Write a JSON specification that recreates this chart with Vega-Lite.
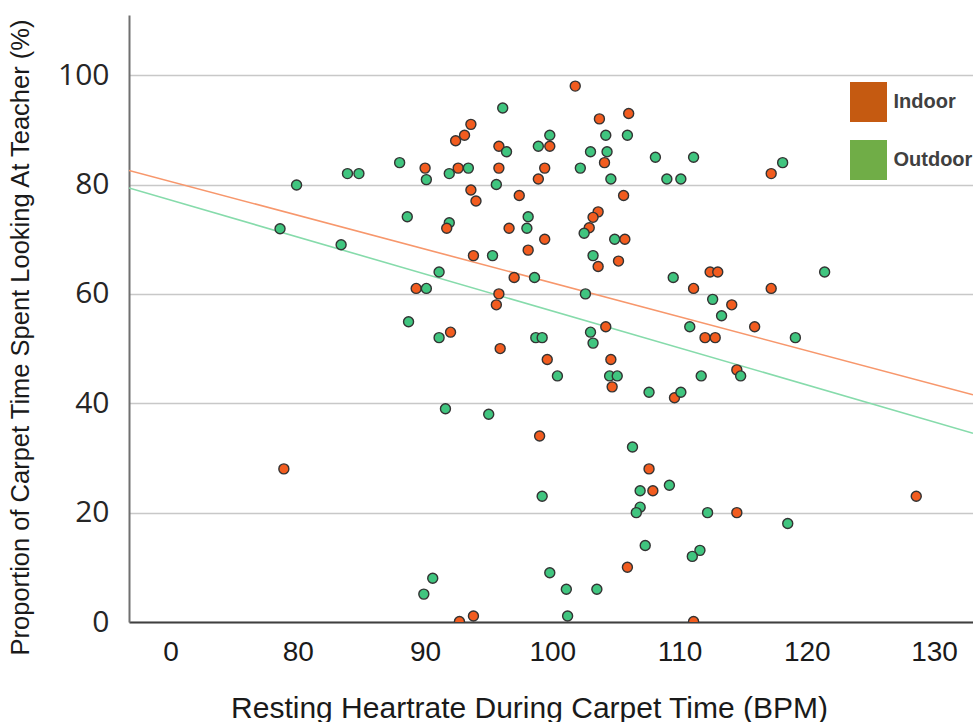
{
  "$schema": "https://vega.github.io/schema/vega-lite/v6.json",
  "width": 844,
  "height": 607,
  "autosize": {"type": "none"},
  "padding": {"left": 129, "top": 15, "right": 0, "bottom": 100},
  "background": "white",
  "config": {"view": {"stroke": null}},
  "datasets": {
    "points": [
      {"hr":79.9,"pct":79.9,"g":"Outdoor"},{"hr":83.9,"pct":82.0,"g":"Outdoor"},{"hr":84.8,"pct":82.0,"g":"Outdoor"},{"hr":88.0,"pct":84.0,"g":"Outdoor"},
      {"hr":90.0,"pct":83.0,"g":"Indoor"},{"hr":90.1,"pct":80.9,"g":"Outdoor"},{"hr":88.6,"pct":74.1,"g":"Outdoor"},{"hr":78.6,"pct":71.9,"g":"Outdoor"},
      {"hr":83.4,"pct":69.0,"g":"Outdoor"},{"hr":89.3,"pct":61.0,"g":"Indoor"},{"hr":90.1,"pct":61.0,"g":"Outdoor"},{"hr":101.8,"pct":98.0,"g":"Indoor"},
      {"hr":96.1,"pct":94.0,"g":"Outdoor"},{"hr":103.7,"pct":92.0,"g":"Indoor"},{"hr":106.0,"pct":93.0,"g":"Indoor"},{"hr":93.6,"pct":91.0,"g":"Indoor"},
      {"hr":93.1,"pct":89.0,"g":"Indoor"},{"hr":92.4,"pct":88.0,"g":"Indoor"},{"hr":99.8,"pct":89.0,"g":"Outdoor"},{"hr":104.2,"pct":89.0,"g":"Outdoor"},
      {"hr":105.9,"pct":89.0,"g":"Outdoor"},{"hr":95.8,"pct":87.0,"g":"Indoor"},{"hr":96.4,"pct":86.0,"g":"Outdoor"},{"hr":98.9,"pct":87.0,"g":"Outdoor"},
      {"hr":99.8,"pct":87.0,"g":"Indoor"},{"hr":103.0,"pct":86.0,"g":"Outdoor"},{"hr":104.3,"pct":86.0,"g":"Outdoor"},{"hr":108.1,"pct":85.0,"g":"Outdoor"},
      {"hr":111.1,"pct":85.0,"g":"Outdoor"},{"hr":104.1,"pct":84.0,"g":"Indoor"},{"hr":91.9,"pct":82.0,"g":"Outdoor"},{"hr":92.6,"pct":83.0,"g":"Indoor"},
      {"hr":93.4,"pct":83.0,"g":"Outdoor"},{"hr":95.8,"pct":83.0,"g":"Indoor"},{"hr":99.4,"pct":83.0,"g":"Indoor"},{"hr":102.2,"pct":83.0,"g":"Outdoor"},
      {"hr":95.6,"pct":80.0,"g":"Outdoor"},{"hr":98.9,"pct":81.0,"g":"Indoor"},{"hr":104.6,"pct":81.0,"g":"Outdoor"},{"hr":109.0,"pct":81.0,"g":"Outdoor"},
      {"hr":110.1,"pct":81.0,"g":"Outdoor"},{"hr":93.6,"pct":79.0,"g":"Indoor"},{"hr":94.0,"pct":77.0,"g":"Indoor"},{"hr":97.4,"pct":78.0,"g":"Indoor"},
      {"hr":105.6,"pct":78.0,"g":"Indoor"},{"hr":98.1,"pct":74.1,"g":"Outdoor"},{"hr":91.9,"pct":73.0,"g":"Outdoor"},{"hr":91.7,"pct":72.0,"g":"Indoor"},
      {"hr":98.0,"pct":72.0,"g":"Outdoor"},{"hr":96.6,"pct":72.0,"g":"Indoor"},{"hr":103.6,"pct":75.0,"g":"Indoor"},{"hr":103.2,"pct":74.0,"g":"Indoor"},
      {"hr":102.9,"pct":72.1,"g":"Indoor"},{"hr":102.5,"pct":71.1,"g":"Outdoor"},{"hr":104.9,"pct":70.0,"g":"Outdoor"},{"hr":105.7,"pct":70.0,"g":"Indoor"},
      {"hr":99.4,"pct":70.0,"g":"Indoor"},{"hr":98.1,"pct":68.0,"g":"Indoor"},{"hr":93.8,"pct":67.0,"g":"Indoor"},{"hr":95.3,"pct":67.0,"g":"Outdoor"},
      {"hr":103.2,"pct":67.0,"g":"Outdoor"},{"hr":103.6,"pct":65.0,"g":"Indoor"},{"hr":105.2,"pct":66.0,"g":"Indoor"},{"hr":91.1,"pct":64.0,"g":"Outdoor"},
      {"hr":97.0,"pct":63.0,"g":"Indoor"},{"hr":98.6,"pct":63.0,"g":"Outdoor"},{"hr":109.5,"pct":63.0,"g":"Outdoor"},{"hr":112.4,"pct":64.0,"g":"Indoor"},
      {"hr":113.0,"pct":64.0,"g":"Indoor"},{"hr":111.1,"pct":61.0,"g":"Indoor"},{"hr":95.8,"pct":60.0,"g":"Indoor"},{"hr":102.6,"pct":60.0,"g":"Outdoor"},
      {"hr":95.6,"pct":58.0,"g":"Indoor"},{"hr":112.6,"pct":59.0,"g":"Outdoor"},{"hr":118.1,"pct":84.0,"g":"Outdoor"},{"hr":117.2,"pct":82.0,"g":"Indoor"},
      {"hr":121.4,"pct":64.0,"g":"Outdoor"},{"hr":117.2,"pct":61.0,"g":"Indoor"},{"hr":114.1,"pct":58.0,"g":"Indoor"},{"hr":88.7,"pct":54.9,"g":"Outdoor"},
      {"hr":78.9,"pct":28.0,"g":"Indoor"},{"hr":91.1,"pct":52.0,"g":"Outdoor"},{"hr":92.0,"pct":53.0,"g":"Indoor"},{"hr":98.7,"pct":52.0,"g":"Outdoor"},
      {"hr":99.2,"pct":52.0,"g":"Outdoor"},{"hr":95.9,"pct":50.0,"g":"Indoor"},{"hr":103.0,"pct":53.0,"g":"Outdoor"},{"hr":103.2,"pct":51.0,"g":"Outdoor"},
      {"hr":104.2,"pct":54.0,"g":"Indoor"},{"hr":99.6,"pct":48.0,"g":"Indoor"},{"hr":104.6,"pct":48.0,"g":"Indoor"},{"hr":100.4,"pct":45.0,"g":"Outdoor"},
      {"hr":104.5,"pct":45.0,"g":"Outdoor"},{"hr":105.1,"pct":45.0,"g":"Outdoor"},{"hr":104.7,"pct":43.0,"g":"Indoor"},{"hr":107.6,"pct":42.0,"g":"Outdoor"},
      {"hr":109.6,"pct":41.0,"g":"Indoor"},{"hr":110.1,"pct":42.0,"g":"Outdoor"},{"hr":110.8,"pct":54.0,"g":"Outdoor"},{"hr":111.7,"pct":45.0,"g":"Outdoor"},
      {"hr":112.0,"pct":52.0,"g":"Indoor"},{"hr":112.8,"pct":52.0,"g":"Indoor"},{"hr":113.3,"pct":56.0,"g":"Outdoor"},{"hr":91.6,"pct":39.0,"g":"Outdoor"},
      {"hr":95.0,"pct":38.0,"g":"Outdoor"},{"hr":99.0,"pct":34.0,"g":"Indoor"},{"hr":106.3,"pct":32.0,"g":"Outdoor"},{"hr":107.6,"pct":28.0,"g":"Indoor"},
      {"hr":115.9,"pct":54.0,"g":"Indoor"},{"hr":119.1,"pct":52.0,"g":"Outdoor"},{"hr":114.5,"pct":46.1,"g":"Indoor"},{"hr":114.8,"pct":45.0,"g":"Outdoor"},
      {"hr":90.6,"pct":8.0,"g":"Outdoor"},{"hr":89.9,"pct":5.1,"g":"Outdoor"},{"hr":92.7,"pct":0.1,"g":"Indoor"},{"hr":93.8,"pct":1.1,"g":"Indoor"},
      {"hr":99.2,"pct":23.0,"g":"Outdoor"},{"hr":106.9,"pct":24.0,"g":"Outdoor"},{"hr":107.9,"pct":24.0,"g":"Indoor"},{"hr":109.2,"pct":25.0,"g":"Outdoor"},
      {"hr":128.6,"pct":23.0,"g":"Indoor"},{"hr":106.9,"pct":21.0,"g":"Outdoor"},{"hr":106.6,"pct":20.0,"g":"Outdoor"},{"hr":112.2,"pct":20.0,"g":"Outdoor"},
      {"hr":114.5,"pct":20.0,"g":"Indoor"},{"hr":118.5,"pct":18.0,"g":"Outdoor"},{"hr":107.3,"pct":14.0,"g":"Outdoor"},{"hr":111.6,"pct":13.1,"g":"Outdoor"},
      {"hr":111.0,"pct":12.0,"g":"Outdoor"},{"hr":105.9,"pct":10.0,"g":"Indoor"},{"hr":99.8,"pct":9.0,"g":"Outdoor"},{"hr":101.1,"pct":6.0,"g":"Outdoor"},
      {"hr":103.5,"pct":6.0,"g":"Outdoor"},{"hr":101.2,"pct":1.1,"g":"Outdoor"},{"hr":111.1,"pct":0.1,"g":"Indoor"}
    ],
    "lines": [
      {"hr":66.73,"pct":82.57,"g":"Indoor"},{"hr":133.06,"pct":41.55,"g":"Indoor"},
      {"hr":66.73,"pct":79.36,"g":"Outdoor"},{"hr":133.06,"pct":34.52,"g":"Outdoor"}
    ]
  },
  "encoding": {
    "x": {
      "field": "hr", "type": "quantitative",
      "scale": {"domain": [66.73, 133.06], "nice": false, "zero": false},
      "axis": {
        "values": [70, 80, 90, 100, 110, 120, 130],
        "labelExpr": "datum.value == 70 ? '0' : datum.label",
        "grid": false, "ticks": false,
        "domainColor": "#404040", "domainWidth": 2,
        "labelFont": "Liberation Sans", "labelFontSize": 28, "labelColor": "#1a1a1a",
        "labelPadding": 16, "labelFlush": false, "labelOverlap": false,
        "title": "Resting Heartrate During Carpet Time (BPM)",
        "titleFont": "Liberation Sans", "titleFontSize": 30, "titleFontWeight": "normal",
        "titleColor": "#1a1a1a", "titleX": 400, "titleY": 95,
        "titleBaseline": "alphabetic", "titleAlign": "center"
      }
    },
    "y": {
      "field": "pct", "type": "quantitative",
      "scale": {"domain": [0, 111], "nice": false},
      "axis": {
        "values": [0, 20, 40, 60, 80, 100],
        "grid": true, "gridColor": "#c8c8c8", "gridWidth": 1.5,
        "ticks": false, "domainColor": "#707070", "domainWidth": 2,
        "labelFont": "Open Sans", "labelFontSize": 30, "labelColor": "#262626",
        "labelPadding": 20, "labelFlush": false, "labelOverlap": false,
        "title": "Proportion of Carpet Time Spent Looking At Teacher (%)",
        "titleFont": "Liberation Sans", "titleFontSize": 25.5, "titleFontWeight": "normal",
        "titleColor": "#1a1a1a", "titleX": -109, "titleY": 322, "titleAngle": -90,
        "titleAlign": "center", "titleBaseline": "middle"
      }
    }
  },
  "layer": [
    {
      "data": {"name": "points"},
      "mark": {"type": "point", "filled": true, "opacity": 0},
      "encoding": {
        "color": {
          "field": "g", "type": "nominal",
          "scale": {"domain": ["Indoor", "Outdoor"], "range": ["#C55A11", "#70AD47"]},
          "legend": {
            "title": null, "orient": "none", "legendX": 719.5, "legendY": 67,
            "symbolType": "M-0.925,-1H0.925V1H-0.925Z", "symbolSize": 1600,
            "symbolOpacity": 1, "symbolStrokeWidth": 0,
            "labelFont": "Liberation Sans", "labelFontSize": 20, "labelFontWeight": "bold",
            "labelColor": "#404040", "labelOffset": 5, "rowPadding": 18, "padding": 0
          }
        }
      }
    },
    {
      "data": {"name": "lines"},
      "mark": {"type": "line", "strokeWidth": 1.6, "clip": true},
      "encoding": {
        "stroke": {
          "field": "g", "type": "nominal",
          "scale": {"domain": ["Indoor", "Outdoor"], "range": ["#F7976C", "#86DBAB"]},
          "legend": null
        }
      }
    },
    {
      "data": {"name": "points"},
      "mark": {"type": "point", "filled": true, "size": 100, "stroke": "#333333", "strokeWidth": 1.4, "opacity": 1, "clip": true},
      "encoding": {
        "fill": {
          "field": "g", "type": "nominal",
          "scale": {"domain": ["Indoor", "Outdoor"], "range": ["#F25C1F", "#40C57F"]},
          "legend": null
        }
      }
    }
  ]
}
